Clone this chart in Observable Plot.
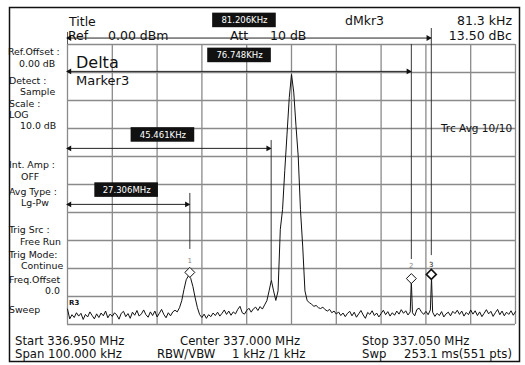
<!DOCTYPE html>
<html><head><meta charset="utf-8">
<script src="https://cdn.jsdelivr.net/npm/d3@7"></script>
<script src="https://cdn.jsdelivr.net/npm/@observablehq/plot@0.6"></script>
<style>
html,body{margin:0;padding:0;background:#fff;}
#chart{position:relative;width:525px;height:365px;}
#chart svg text{font-family:"DejaVu Sans",sans-serif;}
</style></head><body><div id="chart"></div>
<script>
// ---------- data ----------
const spanKHz = [0, 100];              // offset from start 336.950 MHz
const levelDBm = [-100, 0];            // Ref 0 dBm, 10 dB/div
const xGridKHz = [0,10,20,30,40,50,60,70,80,90,100];
const yGridDBm = [0,-10,-20,-30,-40,-50,-60,-70,-80,-90,-100];

// trace: [offset kHz, level dBm]
const trace = [
[0,-94.5],[0.5,-98],[1,-96.5],[1.5,-97.5],[2,-95.8],[2.5,-97],[3,-96],[3.5,-98.2],[4,-96.4],[4.5,-97.3],
[5,-95.5],[5.5,-96.8],[6,-98],[6.5,-96.2],[7,-97.5],[7.5,-95.9],[8,-96.9],[8.5,-95.2],[9,-97.6],[9.5,-96.3],
[10,-97.1],[10.5,-95.8],[11,-96.6],[11.5,-98.1],[12,-96],[12.5,-95.3],[13,-97.2],[13.5,-96.1],[14,-97.8],[14.5,-95.6],
[15,-96.7],[15.5,-95],[16,-97],[16.5,-96.2],[17,-94.8],[17.5,-96.5],[18,-97.4],[18.5,-95.5],[19,-96.8],[19.5,-95.2],
[20,-97.3],[20.5,-96],[21,-94.6],[21.5,-96.4],[22,-97.6],[22.5,-95.8],[23,-96.9],[23.5,-95.5],[24,-94.9],[24.5,-95.5],
[25,-94],[25.5,-91.5],[26,-87.5],[26.5,-84],[27,-82.6],[27.5,-83.5],[28,-86.5],[28.5,-90.5],[29,-94],[29.5,-96.5],
[30,-97.5],[30.5,-96.3],[31,-97.8],[31.5,-96.5],[32,-97.2],[32.5,-95.9],[33,-96.8],[33.5,-95.6],[34,-97],[34.5,-96],
[35,-94.8],[35.5,-96.4],[36,-95.2],[36.5,-96.7],[37,-95.5],[37.5,-96.2],[38,-94.6],[38.5,-93.5],[39,-95.8],[39.5,-96.3],
[40,-95],[40.5,-94.2],[41,-95.6],[41.5,-94.4],[42,-93.8],[42.5,-95],[43,-93.6],[43.5,-94.5],[44,-93],[44.5,-91.5],
[45,-88],[45.5,-84.2],[46,-88],[46.5,-91.4],[47,-88],[47.5,-66],[48,-59],[48.5,-45],[49,-32],[49.5,-19],
[50,-10.7],[50.5,-17],[51,-29],[51.5,-40],[52,-59],[52.5,-72],[53,-88],[53.5,-91.5],[54,-92.2],[54.5,-92.8],
[55,-93.5],[55.5,-93.2],[56,-94],[56.5,-94.3],[57,-93.8],[57.5,-94.7],[58,-95.2],[58.5,-94.6],[59,-95.8],[59.5,-95.2],
[60,-96.3],[60.5,-95.5],[61,-96.8],[61.5,-95.9],[62,-97.2],[62.5,-96],[63,-95.3],[63.5,-96.9],[64,-95.6],[64.5,-97.4],
[65,-96.2],[65.5,-95],[66,-96.6],[66.5,-97.8],[67,-95.7],[67.5,-96.4],[68,-95.1],[68.5,-96.8],[69,-95.9],[69.5,-97.3],
[70,-96.1],[70.5,-94.9],[71,-96.5],[71.5,-95.4],[72,-97],[72.5,-95.8],[73,-96.7],[73.5,-95.2],[74,-96.3],[74.5,-94.7],
[75,-96],[75.5,-95.1],[76,-96.6],[76.5,-95.5],[76.75,-84.3],[77,-95.8],[77.5,-96.9],[78,-94.6],[78.5,-94.2],[79,-95.5],
[79.5,-96.4],[80,-95.3],[80.5,-96.5],[81,-94.8],[81.25,-83.2],[81.5,-95.6],[82,-97.1],[82.5,-96],[83,-96.8],[83.5,-95.4],
[84,-97.3],[84.5,-96.2],[85,-95.6],[85.5,-96.9],[86,-95.3],[86.5,-96.1],[87,-94.9],[87.5,-96.4],[88,-95.2],[88.5,-97],
[89,-95.7],[89.5,-96.5],[90,-94.8],[90.5,-96.3],[91,-95.1],[91.5,-96.8],[92,-95.5],[92.5,-97.2],[93,-96],[93.5,-94.7],
[94,-96.2],[94.5,-95.3],[95,-97.1],[95.5,-95.8],[96,-94.6],[96.5,-96.5],[97,-95.2],[97.5,-96.9],[98,-95.6],[98.5,-96.4],
[99,-95.1],[99.5,-96.7],[100,-95.4]
];

// delta-marker distance annotations
const deltaLabels  = ["81.206KHz", "76.748KHz", "45.461KHz", "27.306MHz"];
const deltaKHz     = [81.206, 76.748, 45.461, 27.306];
const deltaArrowDB = [2.3, -9.6, -37.1, -57.1];     // level of the arrow
const deltaBoxKHz  = [39.5, 38.4, 21.3, 13.2];      // label box centre
const deltaBoxDB   = [8.6, -3.9, -32.3, -52];
const deltaLineTop = [5.7, 0, -34.3, -53.2];        // vertical marker line
const deltaLineBot = [-75.4, -76.8, -84.3, -73.2];

// numbered markers
const markerNames  = ["1", "2", "3"];
const markerKHz    = [27.306, 76.748, 81.206];
const markerDBm    = [-81.4, -83.6, -82.1];
const markerTagDBm = [-77.2, -79, -78.6];

// texts
const headerTexts = ["Title", "Ref", "0.00 dBm", "Att", "10 dB", "dMkr3", "81.3 kHz", "13.50 dBc"];
const panelTexts = ["Ref.Offset :", "0.00 dB", "Detect :", "Sample", "Scale :", "LOG", "10.0 dB",
  "Int. Amp :", "OFF", "Avg Type :", "Lg-Pw", "Trig Src :", "Free Run", "Trig Mode:", "Continue",
  "Freq.Offset", "0.0", "Sweep"];
const footerTexts = ["Start 336.950 MHz", "Span 100.000 kHz", "Center 337.000 MHz", "RBW/VBW",
  "1 kHz /1 kHz", "Stop 337.050 MHz", "Swp", "253.1 ms(551 pts)"];
const plotTexts = ["Delta", "Marker3", "Trc Avg 10/10", "R3"];

// ---------- build ----------
const deltas = deltaLabels.map((t, i) => ({t, f: deltaKHz[i], ay: deltaArrowDB[i], bx: deltaBoxKHz[i], by: deltaBoxDB[i], lt: deltaLineTop[i], lb: deltaLineBot[i]}));
const markers = markerNames.map((n, i) => ({n, f: markerKHz[i], v: markerDBm[i], tv: markerTagDBm[i]}));
const BW = 7.1, BH = 2.6; // half box size in scale units

const plot = Plot.plot({
  width: 525, height: 365,
  marginLeft: 67, marginRight: 10, marginTop: 44, marginBottom: 41,
  x: {domain: spanKHz, axis: null},
  y: {domain: levelDBm, axis: null},
  marks: [
    Plot.ruleX(xGridKHz, {stroke: "#8a8a8a", strokeWidth: 1.3}),
    Plot.ruleY(yGridDBm, {stroke: "#8a8a8a", strokeWidth: 1.3}),
    Plot.ruleX([0], {y1: 0, y2: 4.3, stroke: "#555"}),
    Plot.line(trace, {x: d => d[0], y: d => d[1], stroke: "#111", strokeWidth: 1}),
    // vertical marker lines
    Plot.ruleX(deltas, {x: "f", y1: "lt", y2: "lb", stroke: "#222", strokeWidth: 0.9}),
    // arrows
    Plot.ruleY(deltas, {y: "ay", x1: 0, x2: "f", stroke: "#222", strokeWidth: 1}),
    Plot.dot(deltas, {x: 0, y: "ay", symbol: "triangle", r: 2.2, fill: "#111", stroke: null, rotate: -90, dx: 2}),
    Plot.dot(deltas, {x: "f", y: "ay", symbol: "triangle", r: 2.2, fill: "#111", stroke: null, rotate: 90, dx: -3}),
    // label boxes
    Plot.rect(deltas, {x1: d => d.bx - BW, x2: d => d.bx + BW, y1: d => d.by - BH, y2: d => d.by + BH, fill: "#111"}),
    Plot.text(deltas, {x: "bx", y: "by", text: "t", fill: "white", fontSize: 8.5}),
    // numbered markers
    Plot.dot(markers, {x: "f", y: "v", symbol: "diamond2", r: 4.5, fill: "white", stroke: "#111", strokeWidth: d => d.n === "3" ? 1.6 : 1}),
    Plot.text(markers, {x: "f", y: "tv", text: "n", fontSize: 7, fill: d => d.n === "3" ? "#111" : "#888"})
  ]
});

const svg = d3.select(plot);
svg.style("font-family", '"DejaVu Sans", sans-serif');
svg.insert("rect", ":first-child").attr("x", 9.5).attr("y", 7.5).attr("width", 510).attr("height", 354)
  .attr("fill", "white").attr("stroke", "#111").attr("stroke-width", 1.5);

function put(texts, layout, size, extra = {}) {
  texts.forEach((t, i) => {
    const [x, y, anchor] = layout[i];
    const el = svg.append("text").attr("x", x).attr("y", y).attr("font-size", size)
      .attr("text-anchor", anchor || "start").attr("fill", "#111").style("white-space", "pre").text(t);
    for (const k in extra) el.attr(k, extra[k]);
  });
}
put(headerTexts, [[69,26],[68,40],[108,40],[230,40],[270,40],[345,25],[512,25,"end"],[512,40,"end"]], 12.5);
put(panelTexts, [[8,55],[19,67],[9,84],[20,95],[9,107],[9,118],[20,129],[9,168],[21,180],[9,195],[21,206],
  [9,233],[20,245],[9,258],[21,269],[9,283],[60,294,"end"],[9,313]], 9.4);
put(footerTexts, [[15,345],[15,358],[180,345],[157,358],[232,358],[362,345],[362,358],[512,358,"end"]], 11.7);
put([plotTexts[0]], [[76,68]], 16);
put([plotTexts[1]], [[76,85]], 13);
put([plotTexts[2]], [[441,132]], 10.5);
put([plotTexts[3]], [[69,305]], 7, {"font-weight": "bold"});

document.getElementById("chart").appendChild(plot);
</script></body></html>
